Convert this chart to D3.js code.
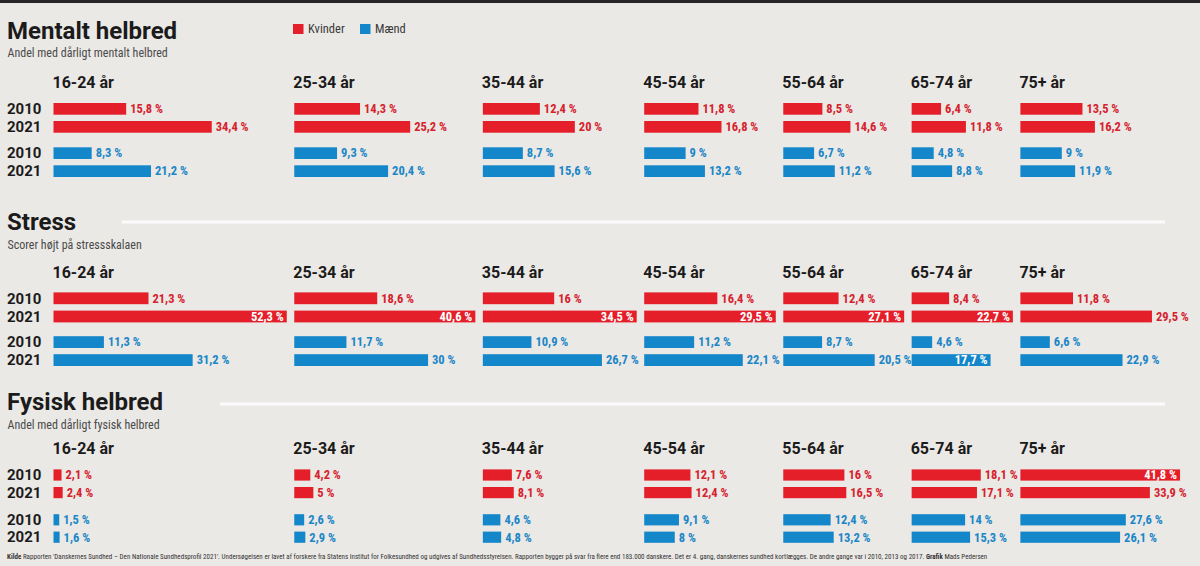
<!DOCTYPE html>
<html><head><meta charset="utf-8">
<script src="https://cdn.jsdelivr.net/npm/d3@7"></script>
<style>
body{margin:0;background:#ebe9e6}
svg{display:block}
</style>
</head><body>
<svg id="chart" width="1200" height="566"></svg>
<script>
// ---------- DATA ----------
const ageGroups = ["16-24 år", "25-34 år", "35-44 år", "45-54 år", "55-64 år", "65-74 år", "75+ år"];
const years = ["2010", "2021"];
const seriesNames = ["Kvinder", "Mænd"];

const mentaltKvinder2010 = [15.8, 14.3, 12.4, 11.8, 8.5, 6.4, 13.5];
const mentaltKvinder2021 = [34.4, 25.2, 20, 16.8, 14.6, 11.8, 16.2];
const mentaltMaend2010   = [8.3, 9.3, 8.7, 9, 6.7, 4.8, 9];
const mentaltMaend2021   = [21.2, 20.4, 15.6, 13.2, 11.2, 8.8, 11.9];

const stressKvinder2010 = [21.3, 18.6, 16, 16.4, 12.4, 8.4, 11.8];
const stressKvinder2021 = [52.3, 40.6, 34.5, 29.5, 27.1, 22.7, 29.5];
const stressMaend2010   = [11.3, 11.7, 10.9, 11.2, 8.7, 4.6, 6.6];
const stressMaend2021   = [31.2, 30, 26.7, 22.1, 20.5, 17.7, 22.9];

const fysiskKvinder2010 = [2.1, 4.2, 7.6, 12.1, 16, 18.1, 41.8];
const fysiskKvinder2021 = [2.4, 5, 8.1, 12.4, 16.5, 17.1, 33.9];
const fysiskMaend2010   = [1.5, 2.6, 4.6, 9.1, 12.4, 14, 27.6];
const fysiskMaend2021   = [1.6, 2.9, 4.8, 8, 13.2, 15.3, 26.1];

const sectionTitles = ["Mentalt helbred", "Stress", "Fysisk helbred"];
const sectionSubtitles = ["Andel med dårligt mentalt helbred", "Scorer højt på stressskalaen", "Andel med dårligt fysisk helbred"];
const footerParts = [
  ["Kilde ", true],
  ["Rapporten 'Danskernes Sundhed – Den Nationale Sundhedsprofil 2021'. Undersøgelsen er lavet af forskere fra Statens Institut for Folkesundhed og udgives af Sundhedsstyrelsen. Rapporten bygger på svar fra flere end 183.000 danskere. Det er 4. gang, danskernes sundhed kortlægges. De andre gange var i 2010, 2013 og 2017. ", false],
  ["Grafik ", true],
  ["Mads Pedersen", false]
];

// ---------- STYLE / LAYOUT ----------
const RED = "#e41f29", BLUE = "#1487ca", RED_TXT = "#d5222d", BLUE_TXT = "#1a86c6";
const DARK = "#1b1b1b";
const NARROW = "'Liberation Sans Narrow', 'Roboto Condensed', Roboto, sans-serif";
const BOLD = "Roboto, 'Liberation Sans', sans-serif";

const sections = [
  { title: sectionTitles[0], sub: sectionSubtitles[0],
    rows: [mentaltKvinder2010, mentaltKvinder2021, mentaltMaend2010, mentaltMaend2021],
    pxMax: 460, titleY: 39, subY: 57, headY: 88, barY: [103, 121, 147.3, 165.3], barH: 11.7, lineX: null, lineY: 0 },
  { title: sectionTitles[1], sub: sectionSubtitles[1],
    rows: [stressKvinder2010, stressKvinder2021, stressMaend2010, stressMaend2021],
    pxMax: 446, titleY: 230, subY: 248.5, headY: 277.5, barY: [292.4, 310.6, 336.2, 354.2], barH: 11.8, lineX: 122, lineY: 222 },
  { title: sectionTitles[2], sub: sectionSubtitles[2],
    rows: [fysiskKvinder2010, fysiskKvinder2021, fysiskMaend2010, fysiskMaend2021],
    pxMax: 382, titleY: 410, subY: 428.5, headY: 454, barY: [469.4, 487, 514.2, 531.6], barH: 11.2, lineX: 220, lineY: 404 }
];
sections.forEach(s => { s.x = d3.scaleLinear().domain([0, 100]).range([0, s.pxMax]); });

const svg = d3.select("#chart");
svg.append("rect").attr("width", 1200).attr("height", 566).attr("fill", "#ebe9e6");
svg.append("rect").attr("width", 1200).attr("height", 3).attr("fill", "#262626");

// Column positions derived from the widest bar in each column
const firstX = 53.5, colGap = 7.5, rightLimit = 1196;
const colX = [firstX];
ageGroups.forEach((g, i) => {
  const w = d3.max(sections, s => d3.max(s.rows, r => s.x(r[i])));
  colX.push(colX[i] + w + colGap);
});

const fmt = v => String(v).replace(".", ",") + " %";

// Legend
const legend = svg.append("g").attr("transform", "translate(293,24)");
seriesNames.forEach((n, i) => {
  const g = legend.append("g").attr("transform", `translate(${i * 67},0)`);
  g.append("rect").attr("width", 10.5).attr("height", 10).attr("fill", i === 0 ? RED : BLUE);
  g.append("text").attr("x", 15).attr("y", 9.2).text(n)
    .attr("font-family", NARROW).attr("font-size", 12.5).attr("fill", "#3a3a3a");
});

sections.forEach(s => {
  svg.append("text").attr("x", 7).attr("y", s.titleY).text(s.title)
    .attr("font-family", BOLD).attr("font-weight", 700).attr("font-size", 24).attr("fill", DARK);
  svg.append("text").attr("x", 7.5).attr("y", s.subY).text(s.sub)
    .attr("font-family", NARROW).attr("font-size", 12).attr("fill", "#4a4a4a");
  if (s.lineX !== null) {
    svg.append("line").attr("x1", s.lineX).attr("x2", 1165).attr("y1", s.lineY).attr("y2", s.lineY)
      .attr("stroke", "#fbfbfb").attr("stroke-width", 3);
  }
  s.barY.forEach((y, r) => {
    svg.append("text").attr("x", 7).attr("y", y + s.barH - 0.6).text(years[r % 2])
      .attr("font-family", BOLD).attr("font-weight", 700).attr("font-size", 15).attr("fill", DARK);
  });
  ageGroups.forEach((g, c) => {
    const x0 = colX[c];
    svg.append("text").attr("x", x0 - 1).attr("y", s.headY).text(g)
      .attr("font-family", BOLD).attr("font-weight", 700).attr("font-size", 16).attr("fill", DARK);
    const limit = c < ageGroups.length - 1 ? colX[c + 1] + 1 : rightLimit;
    s.rows.forEach((row, r) => {
      const v = row[c];
      const isRed = r < 2;
      const w = s.x(v);
      const y = s.barY[r];
      svg.append("rect").attr("x", x0).attr("y", y).attr("width", w).attr("height", s.barH)
        .attr("fill", isRed ? RED : BLUE);
      const t = svg.append("text").attr("y", y + s.barH / 2 + 4.3).text(fmt(v))
        .attr("font-family", NARROW).attr("font-weight", 700).attr("font-size", 12.5);
      const tw = t.node().getComputedTextLength();
      if (x0 + w + 4 + tw > limit) {
        t.attr("x", x0 + w - 3).attr("text-anchor", "end").attr("fill", "#ffffff");
      } else {
        t.attr("x", x0 + w + 4).attr("fill", isRed ? RED_TXT : BLUE_TXT);
      }
    });
  });
});

// Footer (font size fitted so the line spans the same width as the reference)
const foot = svg.append("text").attr("x", 7).attr("y", 559)
  .attr("font-family", NARROW).attr("font-size", 7.5).attr("fill", "#333");
footerParts.forEach(([txt, b]) => foot.append("tspan").attr("font-weight", b ? 700 : 400).text(txt));
const natural = foot.node().getComputedTextLength();
foot.attr("font-size", 7.5 * 981 / natural);
</script>
</body></html>
